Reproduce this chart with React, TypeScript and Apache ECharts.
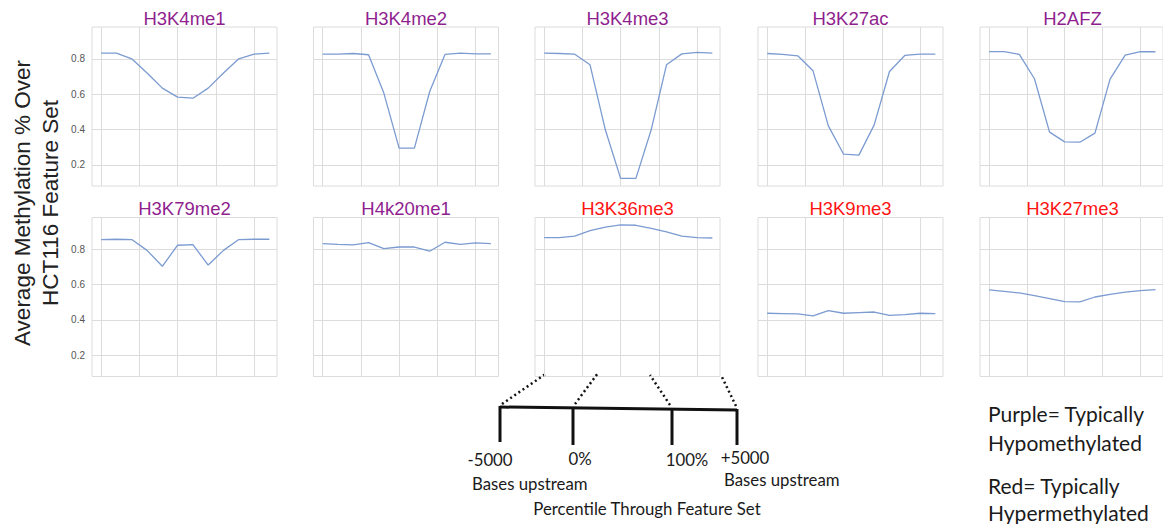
import React, { useEffect, useRef } from "react";
import * as echarts from "echarts";

// Histone marks, in panel order (row by row)
const marks = [
  "H3K4me1", "H3K4me2", "H3K4me3", "H3K27ac", "H2AFZ",
  "H3K79me2", "H4k20me1", "H3K36me3", "H3K9me3", "H3K27me3",
];
// "hypo" marks are titled purple, "hyper" marks red
const markClass = [
  "hypo", "hypo", "hypo", "hypo", "hypo",
  "hypo", "hypo", "hyper", "hyper", "hyper",
];

// Bins through the feature set (-5000 .. 0% .. 100% .. +5000)
const bins = [0, 1, 2, 3, 4, 5, 6, 7, 8, 9, 10, 11];

// Average methylation per bin
const h3k4me1 = [0.832, 0.832, 0.8, 0.72, 0.634, 0.583, 0.577, 0.634, 0.72, 0.8, 0.826, 0.832];
const h3k4me2 = [0.826, 0.826, 0.83, 0.823, 0.606, 0.294, 0.294, 0.615, 0.825, 0.832, 0.828, 0.828];
const h3k4me3 = [0.832, 0.83, 0.826, 0.766, 0.398, 0.123, 0.123, 0.398, 0.766, 0.828, 0.836, 0.832];
const h3k27ac = [0.83, 0.825, 0.817, 0.732, 0.42, 0.26, 0.255, 0.426, 0.728, 0.819, 0.826, 0.826];
const h2afz = [0.841, 0.841, 0.825, 0.687, 0.385, 0.33, 0.328, 0.379, 0.685, 0.821, 0.841, 0.84];
const h3k79me2 = [0.855, 0.857, 0.855, 0.794, 0.704, 0.823, 0.826, 0.711, 0.794, 0.855, 0.857, 0.857];
const h4k20me1 = [0.832, 0.828, 0.825, 0.838, 0.804, 0.813, 0.813, 0.789, 0.84, 0.828, 0.836, 0.832];
const h3k36me3 = [0.866, 0.866, 0.875, 0.906, 0.926, 0.938, 0.936, 0.919, 0.898, 0.874, 0.866, 0.864];
const h3k9me3 = [0.438, 0.436, 0.434, 0.423, 0.453, 0.438, 0.442, 0.445, 0.426, 0.43, 0.438, 0.436];
const h3k27me3 = [0.57, 0.562, 0.553, 0.538, 0.521, 0.504, 0.502, 0.53, 0.545, 0.558, 0.566, 0.572];

const seriesValues = [
  h3k4me1, h3k4me2, h3k4me3, h3k27ac, h2afz,
  h3k79me2, h4k20me1, h3k36me3, h3k9me3, h3k27me3,
];

// Axis ticks
const yTicks = [0.2, 0.4, 0.6, 0.8];
const xGridTicks = [0, 2.5, 5, 7.5, 10];

// Feature-set schematic labels
const schematicLabels = ["-5000", "0%", "100%", "+5000"];
const upstreamLabel = "Bases upstream";
const xTitle = "Percentile Through Feature Set";
const yTitleLines = ["Average Methylation % Over", "HCT116 Feature Set"];
const legendLines = ["Purple= Typically", "Hypomethylated", "Red= Typically", "Hypermethylated"];

const W = 1163;
const H = 524;
const PURPLE = "#8f1f8f";
const RED = "#ff1414";
const LINE = "#7b9bd1";
const GRID = "#dcdcdc";
const SANS = "'Liberation Sans', Arial, sans-serif";
const BODY = "Lato, 'Open Sans', sans-serif";

export default function App() {
  const ref = useRef<HTMLDivElement>(null);

  useEffect(() => {
    if (!ref.current) return;
    const chart = echarts.init(ref.current, undefined, { renderer: "svg" });

    const lefts = [92, 313.5, 535, 758, 980];
    const tops = [27, 217.5];
    const gw = 185;
    const gh = 159;

    const grids: any[] = [];
    const xAxes: any[] = [];
    const yAxes: any[] = [];
    const series: any[] = [];
    const titles: any[] = [];

    marks.forEach((name, i) => {
      const row = Math.floor(i / 5);
      const col = i % 5;
      grids.push({
        left: lefts[col],
        top: tops[row],
        width: gw,
        height: gh,
        show: true,
        borderColor: GRID,
        borderWidth: 1,
        backgroundColor: "transparent",
      });
      xAxes.push({
        gridIndex: i,
        type: "value",
        min: -0.6,
        max: 11.5,
        axisLine: { show: false },
        axisTick: { show: false, customValues: xGridTicks },
        axisLabel: { show: false, customValues: xGridTicks },
        splitLine: { show: true, lineStyle: { color: GRID, width: 1 } },
      });
      yAxes.push({
        gridIndex: i,
        type: "value",
        min: 0.08,
        max: 0.98,
        axisLine: { show: false },
        axisTick: { show: false, customValues: yTicks },
        axisLabel: {
          show: col === 0,
          customValues: yTicks,
          formatter: (v: number) => v.toFixed(1),
          color: "#555",
          fontSize: 10,
          fontFamily: SANS,
          margin: 7,
        },
        splitLine: { show: true, lineStyle: { color: GRID, width: 1 } },
      });
      series.push({
        type: "line",
        xAxisIndex: i,
        yAxisIndex: i,
        data: bins.map((b, k) => [b, seriesValues[i][k]]),
        symbol: "none",
        lineStyle: { color: LINE, width: 1.3 },
        silent: true,
      });
      titles.push({
        type: "text",
        x: lefts[col] + gw / 2,
        y: row === 0 ? 18 : 208,
        style: {
          text: name,
          fill: markClass[i] === "hypo" ? PURPLE : RED,
          font: `18.5px ${SANS}`,
          textAlign: "center",
          textVerticalAlign: "middle",
        },
      });
    });

    const black = "#111";
    const thick = { stroke: black, lineWidth: 3 };
    const dotted = { stroke: black, lineWidth: 2.5, lineDash: [2, 3] };
    const bodyText = (text: string, x: number, y: number, align: string, size = 16.8) => ({
      type: "text",
      x,
      y,
      style: {
        text,
        fill: "#1a1a1a",
        font: `${size}px ${BODY}`,
        textAlign: align,
        textVerticalAlign: "middle",
      },
    });
    const yTitle = (text: string, x: number) => ({
      type: "text",
      x,
      y: 203,
      rotation: Math.PI / 2,
      style: {
        text,
        fill: "#222",
        font: `22.5px ${SANS}`,
        textAlign: "center",
        textVerticalAlign: "middle",
      },
    });

    const graphic: any[] = [
      ...titles,
      // y-axis title, rotated
      yTitle(yTitleLines[0], 22),
      yTitle(yTitleLines[1], 50),
      // feature-set schematic
      { type: "line", shape: { x1: 500, y1: 407, x2: 737, y2: 410 }, style: thick },
      { type: "line", shape: { x1: 500, y1: 406, x2: 500, y2: 442 }, style: thick },
      { type: "line", shape: { x1: 573, y1: 407, x2: 573, y2: 445 }, style: thick },
      { type: "line", shape: { x1: 672, y1: 408, x2: 672, y2: 445 }, style: thick },
      { type: "line", shape: { x1: 737, y1: 409, x2: 737, y2: 445 }, style: thick },
      { type: "line", shape: { x1: 502, y1: 404, x2: 547, y2: 373 }, style: dotted },
      { type: "line", shape: { x1: 575, y1: 404, x2: 598, y2: 373 }, style: dotted },
      { type: "line", shape: { x1: 670, y1: 405, x2: 650, y2: 375 }, style: dotted },
      { type: "line", shape: { x1: 736, y1: 406, x2: 721, y2: 375 }, style: dotted },
      bodyText(schematicLabels[0], 490, 459, "center"),
      bodyText(schematicLabels[1], 580, 458, "center"),
      bodyText(schematicLabels[2], 687, 459, "center"),
      bodyText(schematicLabels[3], 745, 457, "center"),
      bodyText(upstreamLabel, 472, 483, "left"),
      bodyText(upstreamLabel, 724, 479, "left"),
      bodyText(xTitle, 647, 508, "center"),
      // colour legend
      bodyText(legendLines[0], 988, 413, "left", 21),
      bodyText(legendLines[1], 988, 442, "left", 21),
      bodyText(legendLines[2], 988, 485, "left", 21),
      bodyText(legendLines[3], 988, 512, "left", 21),
    ];

    chart.setOption({
      animation: false,
      backgroundColor: "#ffffff",
      grid: grids,
      xAxis: xAxes,
      yAxis: yAxes,
      series,
      graphic,
    });

    return () => chart.dispose();
  }, []);

  return (
    <div
      ref={ref}
      style={{ position: "fixed", left: 0, top: 0, width: W, height: H }}
    />
  );
}
